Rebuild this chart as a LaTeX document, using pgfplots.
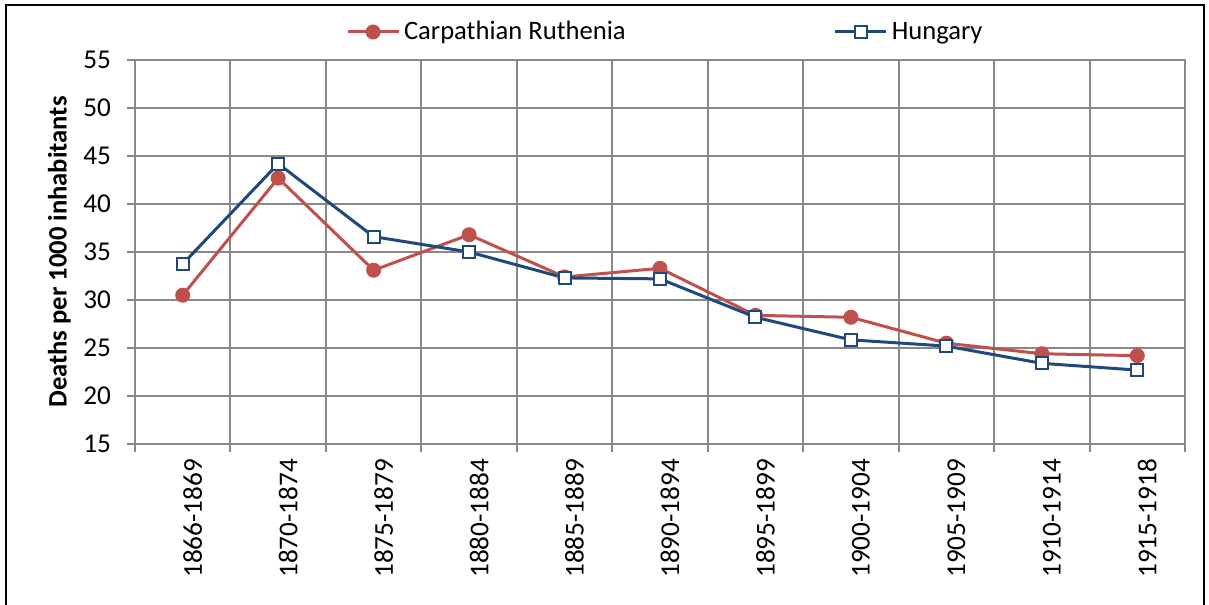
\documentclass[border=0pt]{standalone}
\usepackage{pgfplots}
\pgfplotsset{compat=1.18}
\usepackage{fontspec}
\setmainfont{Carlito}
\definecolor{cred}{HTML}{C0504D}
\definecolor{cblue}{HTML}{1F497D}
\definecolor{cgrid}{HTML}{888888}
\begin{document}
\begin{tikzpicture}
\useasboundingbox (0,0) rectangle (604.5bp,302.5bp);
\draw[black, line width=1bp] (3bp,-0.5bp) rectangle (602bp,300bp);
\begin{axis}[
  at={(67.5bp,80.5bp)}, anchor=south west,
  scale only axis, width=525bp, height=192bp,
  xmin=-0.5, xmax=10.5, ymin=15, ymax=55,
  ytick={15,20,...,55},
  xtick={0,...,10},
  xticklabels={1866-1869,1870-1874,1875-1879,1880-1884,1885-1889,1890-1894,1895-1899,1900-1904,1905-1909,1910-1914,1915-1918},
  minor xtick={-0.5,0.5,...,10.5},
  ymajorgrids, xminorgrids,
  major grid style={cgrid, line width=1bp},
  minor grid style={cgrid, line width=1bp},
  axis line style={cgrid, line width=1bp},
  tick style={cgrid, line width=1bp},
  tick align=outside,
  major x tick style={draw=none},
  minor tick length=4bp,
  major tick length=4bp,
  xtick pos=bottom, ytick pos=left,
  /pgf/number format/assume math mode=true,
  tick label style={font=\fontsize{13.6bp}{15bp}\selectfont, black},
  xticklabel style={rotate=90, anchor=east, yshift=-5bp},
  yticklabel style={xshift=-4.5bp},
  ylabel={Deaths per 1000 inhabitants},
  ylabel style={font=\fontsize{13.3bp}{15bp}\selectfont\bfseries, at={(axis description cs:-0.072,0.5)}, anchor=center},
  legend columns=2,
  legend style={draw=none, fill=none, at={(0.506,1)}, anchor=center, yshift=14bp,
    font=\fontsize{13.3bp}{15bp}\selectfont, /tikz/every even column/.append style={column sep=102bp}},
  legend image code/.code={\draw[mark repeat=2,mark phase=2] plot coordinates {(0cm,0cm) (0.45cm,0cm) (0.9cm,0cm)};},
]
\addplot[cred, line width=1.5bp, mark=*, mark size=3bp, mark options={fill=cred, draw=cred}] coordinates {
(0,30.5) (1,42.7) (2,33.1) (3,36.8) (4,32.4) (5,33.3) (6,28.4) (7,28.2) (8,25.5) (9,24.4) (10,24.2)};
\addlegendentry{Carpathian Ruthenia}
\addplot[cblue, line width=1.5bp, mark=square*, mark size=3bp, mark options={fill=white, draw=cblue, line width=1bp}] coordinates {
(0,33.75) (1,44.2) (2,36.6) (3,35.0) (4,32.3) (5,32.2) (6,28.2) (7,25.85) (8,25.2) (9,23.4) (10,22.7)};
\addlegendentry{Hungary}
\end{axis}
\end{tikzpicture}
\end{document}
